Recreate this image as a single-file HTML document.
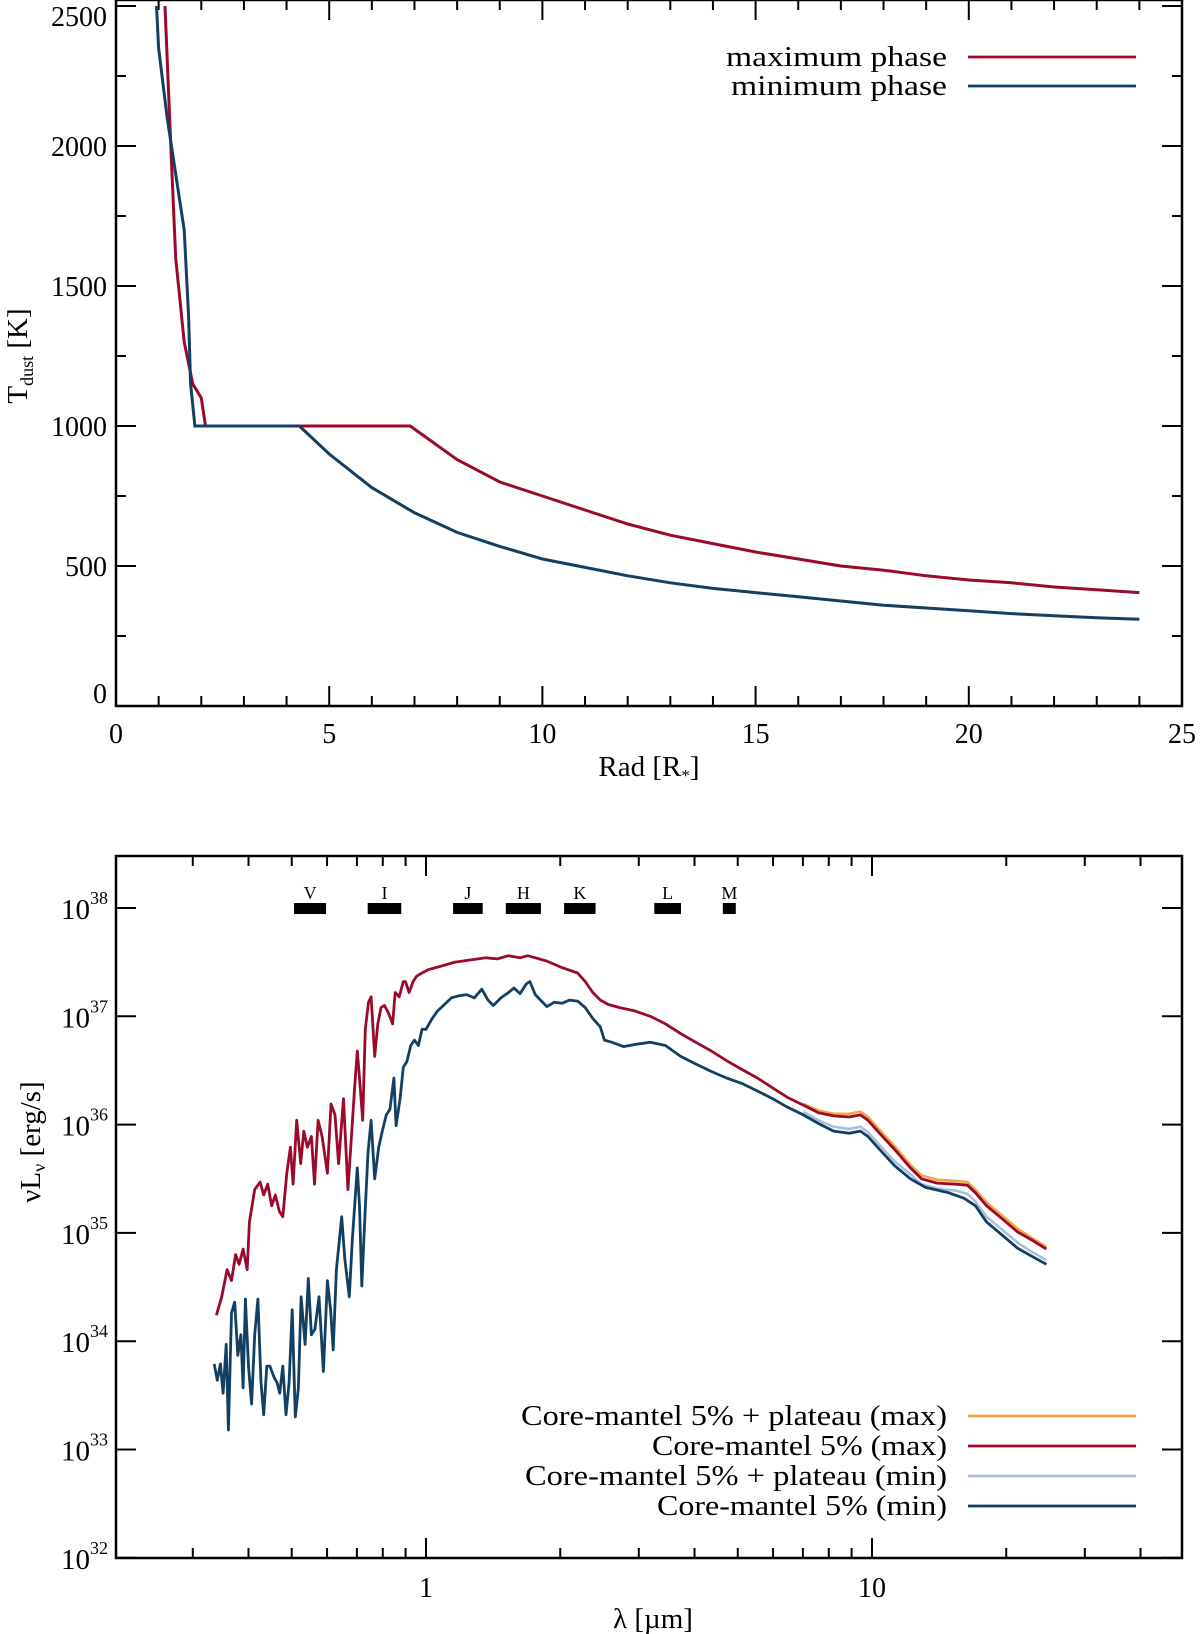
<!DOCTYPE html>
<html><head><meta charset="utf-8"><style>
body{margin:0;background:#fff;}
svg{display:block;font-family:"Liberation Serif",serif;}
</style></head><body>
<svg id="fig" width="1200" height="1634" viewBox="0 0 1200 1634" xmlns="http://www.w3.org/2000/svg"></svg>
<script>
// ---------- Top chart data ----------
const radMax = [1.15,1.3,1.4,1.6,1.8,2.0,2.1,2.2,6.9,8,9,10,11,12,13,14,15,16,17,18,19,20,21,22,23,24];
const tMax = [2500,1950,1600,1300,1150,1100,1000,1000,1000,880,800,750,700,650,610,580,550,525,500,485,465,450,440,425,415,405];
const radMin = [0.95,1.0,1.2,1.4,1.6,1.7,1.75,1.85,4.3,5,6,7,8,9,10,11,12,13,14,15,16,17,18,19,20,21,22,23,24];
const tMin = [2500,2350,2100,1900,1700,1400,1150,1000,1000,900,780,690,620,570,525,495,465,440,420,405,390,375,360,350,340,330,322,315,310];
const xTicksTop = [0,5,10,15,20,25];
const yTicksTop = [0,500,1000,1500,2000,2500];

// ---------- Bottom chart data (log10 lambda [um], log10 nuLnu) ----------
const lamMax = [-0.470,-0.458,-0.446,-0.436,-0.427,-0.419,-0.410,-0.401,-0.396,-0.384,-0.372,-0.364,-0.355,-0.346,-0.338,-0.329,-0.321,-0.312,-0.304,-0.298,-0.290,-0.281,-0.274,-0.266,-0.257,-0.250,-0.242,-0.233,-0.221,-0.213,-0.204,-0.196,-0.185,-0.175,-0.168,-0.160,-0.154,-0.149,-0.142,-0.136,-0.129,-0.123,-0.115,-0.108,-0.101,-0.093,-0.084,-0.075,-0.069,-0.060,-0.051,-0.046,-0.038,-0.029,-0.021,-0.009,0.005,0.031,0.065,0.099,0.134,0.160,0.185,0.211,0.228,0.245,0.271,0.305,0.340,0.357,0.374,0.391,0.408,0.434,0.468,0.503,0.537,0.571,0.605,0.640,0.674,0.708,0.743,0.777,0.811,0.846,0.880,0.914,0.949,0.974,0.991,1.017,1.051,1.086,1.111,1.146,1.189,1.214,1.232,1.257,1.292,1.326,1.360,1.391];
const lumMax = [34.24,34.41,34.66,34.56,34.80,34.71,34.85,34.66,35.10,35.40,35.47,35.35,35.45,35.25,35.35,35.20,35.15,35.55,35.79,35.45,36.04,35.64,35.94,35.79,35.89,35.45,36.04,35.89,35.55,36.19,36.09,35.64,36.24,35.40,35.84,36.34,36.68,36.43,36.04,36.88,37.13,37.18,36.63,36.93,37.08,37.10,37.03,36.93,37.22,37.18,37.32,37.32,37.22,37.32,37.37,37.40,37.43,37.46,37.50,37.52,37.54,37.53,37.56,37.54,37.56,37.54,37.51,37.45,37.40,37.32,37.22,37.15,37.11,37.08,37.05,37.00,36.93,36.84,36.76,36.68,36.59,36.51,36.43,36.34,36.25,36.18,36.11,36.08,36.07,36.09,36.04,35.92,35.77,35.60,35.50,35.46,35.45,35.44,35.37,35.25,35.13,35.01,34.93,34.85];
const lamMin = [-0.475,-0.468,-0.461,-0.455,-0.448,-0.443,-0.436,-0.429,-0.422,-0.415,-0.410,-0.405,-0.398,-0.391,-0.384,-0.377,-0.370,-0.364,-0.357,-0.350,-0.341,-0.334,-0.328,-0.321,-0.314,-0.307,-0.300,-0.293,-0.286,-0.280,-0.271,-0.264,-0.257,-0.249,-0.240,-0.230,-0.221,-0.214,-0.208,-0.201,-0.189,-0.182,-0.172,-0.165,-0.154,-0.149,-0.144,-0.137,-0.130,-0.123,-0.115,-0.106,-0.098,-0.089,-0.081,-0.072,-0.067,-0.058,-0.051,-0.043,-0.034,-0.026,-0.017,-0.009,0.000,0.014,0.026,0.039,0.057,0.074,0.091,0.108,0.125,0.139,0.151,0.168,0.185,0.197,0.211,0.225,0.233,0.245,0.259,0.271,0.288,0.305,0.322,0.340,0.357,0.374,0.391,0.400,0.417,0.443,0.468,0.503,0.537,0.571,0.605,0.640,0.674,0.708,0.743,0.777,0.811,0.846,0.880,0.914,0.949,0.974,0.991,1.017,1.051,1.086,1.120,1.172,1.206,1.232,1.257,1.292,1.326,1.360,1.391];
const lumMin = [33.79,33.64,33.79,33.52,33.97,33.18,34.26,34.36,33.87,34.06,33.57,34.39,33.77,33.42,34.06,34.39,33.62,33.32,33.77,33.77,33.67,33.62,33.52,33.77,33.32,33.62,34.29,33.30,33.57,34.41,33.97,34.58,34.06,34.11,34.41,33.72,34.56,34.29,33.92,34.66,35.15,34.76,34.41,34.95,35.60,35.25,34.51,35.15,35.74,36.04,35.50,35.79,35.94,36.09,36.14,36.43,35.99,36.24,36.53,36.58,36.73,36.78,36.73,36.88,36.88,36.98,37.05,37.10,37.17,37.19,37.20,37.17,37.25,37.15,37.10,37.17,37.22,37.26,37.21,37.30,37.32,37.20,37.14,37.09,37.13,37.12,37.15,37.14,37.08,36.98,36.90,36.78,36.76,36.72,36.74,36.76,36.73,36.63,36.56,36.49,36.43,36.38,36.31,36.24,36.16,36.09,36.01,35.94,35.92,35.94,35.89,35.77,35.62,35.50,35.42,35.37,35.32,35.25,35.10,34.98,34.86,34.78,34.71];
const lamPlat = [0.846,0.880,0.914,0.949,0.974,0.991,1.017,1.051,1.086,1.111,1.146,1.189,1.214,1.232,1.257,1.292,1.326,1.360,1.391];
const lumPlatMax = [36.19,36.13,36.10,36.10,36.12,36.07,35.95,35.80,35.63,35.53,35.49,35.48,35.47,35.40,35.28,35.16,35.04,34.95,34.87];
const lumPlatMin = [36.12,36.04,35.98,35.96,35.98,35.93,35.81,35.66,35.54,35.45,35.41,35.39,35.36,35.29,35.15,35.03,34.91,34.82,34.75];
const bandNames = ["V","I","J","H","K","L","M"];
const bandLo = [0.506,0.74,1.15,1.51,2.04,3.25,4.63];
const bandHi = [0.597,0.88,1.34,1.81,2.40,3.73,4.95];
const decadeTicks = [32,33,34,35,36,37,38];

const NS = "http://www.w3.org/2000/svg";
const svg = document.getElementById('fig');
function mk(tag, attrs, parent){const e=document.createElementNS(NS,tag);for(const k in attrs)e.setAttribute(k,attrs[k]);(parent||svg).appendChild(e);return e;}
function linePath(xs,ys,fx,fy){return xs.map((v,i)=>(i?'L':'M')+fx(v).toFixed(1)+' '+fy(ys[i]).toFixed(1)).join(' ');}

// ---------- Top chart ----------
const T = {l:116,r:1182,t:6,b:706};
const xT = v => T.l + (v-0)/25*(T.r-T.l);
const yT = v => T.b - v/2500*(T.b-T.t);
const gTop = mk('g',{});


for(let v=0; v<=25; v++){
  const big = v%5===0, len = big?20:10, x=xT(v);
  const t1=mk('line',{x1:x,x2:x,y1:T.b,y2:T.b-len,stroke:'#000','stroke-width':2},gTop);
   
  const t2=mk('line',{x1:x,x2:x,y1:T.t-6,y2:T.t-6+len,stroke:'#000','stroke-width':2},gTop);
   
}
xTicksTop.forEach(v=>{
  const t=mk('text',{x:xT(v),y:743,'font-size':28,'text-anchor':'middle'},gTop); t.textContent=v;
   
});
for(let v=0; v<=2500; v+=250){
  const big=v%500===0, len=big?20:10, y=yT(v);
  const t1=mk('line',{x1:T.l,x2:T.l+len,y1:y,y2:y,stroke:'#000','stroke-width':2},gTop);
   
  const t2=mk('line',{x1:T.r,x2:T.r-len,y1:y,y2:y,stroke:'#000','stroke-width':2},gTop);
   
}
yTicksTop.forEach(v=>{
  const yy = v===0 ? yT(v)-3 : (v===2500? yT(v)+20 : yT(v)+10);
  const t=mk('text',{x:107,y:yy,'font-size':28,'text-anchor':'end'},gTop); t.textContent=v;
   
});
const frameT = mk('rect',{x:T.l,y:T.t-6,width:T.r-T.l,height:T.b-T.t+6,fill:'none',stroke:'#000','stroke-width':2.5},gTop);
 
const clipT = mk('clipPath',{id:'clipT'},gTop); mk('rect',{x:T.l,y:0,width:T.r-T.l,height:T.b},clipT);
const pMaxT = mk('path',{d:linePath(radMax,tMax,xT,yT),fill:'none',stroke:'#9b0a2b','stroke-width':3,'clip-path':'url(#clipT)'},gTop);
 
const pMinT = mk('path',{d:linePath(radMin,tMin,xT,yT),fill:'none',stroke:'#123f62','stroke-width':3,'clip-path':'url(#clipT)'},gTop);
 
[['maximum phase','#9b0a2b',57,221],['minimum phase','#123f62',86,216]].forEach(([lab,col,y,w])=>{
  const t=mk('text',{x:947,y:y+9,'font-size':28,'text-anchor':'end',textLength:w,lengthAdjust:'spacingAndGlyphs'},gTop); t.textContent=lab;
   
  const l=mk('line',{x1:968,x2:1136,y1:y,y2:y,stroke:col,'stroke-width':2.8},gTop);
   
});
const xtT=mk('text',{x:649,y:776,'font-size':29,'text-anchor':'middle'},gTop);
xtT.innerHTML='Rad [R<tspan font-size="17" dy="5">*</tspan><tspan dy="-5">]</tspan>';
 
const ytT=mk('text',{transform:'translate(27,356) rotate(-90)','font-size':29,'text-anchor':'middle'},gTop);
ytT.innerHTML='T<tspan font-size="18" dy="6">dust</tspan><tspan dy="-6"> [K]</tspan>';
 

// ---------- Bottom chart ----------
const B = {l:116,r:1182,t:856,b:1558};
const xB = lg => 426 + lg*446;
const yB = lg => 908 - (lg-38)*108.3;
const gBot = mk('g',{});


const minorLam = [0.3,0.4,0.5,0.6,0.7,0.8,0.9,2,3,4,5,6,7,8,9,20,30,40];
minorLam.forEach(v=>{
  const x=xB(Math.log10(v));
  const a=mk('line',{x1:x,x2:x,y1:B.b,y2:B.b-10,stroke:'#000','stroke-width':2},gBot);
   
  const b=mk('line',{x1:x,x2:x,y1:B.t,y2:B.t+10,stroke:'#000','stroke-width':2},gBot);
   
});
[1,10].forEach(v=>{
  const x=xB(Math.log10(v));
  const a=mk('line',{x1:x,x2:x,y1:B.b,y2:B.b-20,stroke:'#000','stroke-width':2},gBot);
   
  const b=mk('line',{x1:x,x2:x,y1:B.t,y2:B.t+20,stroke:'#000','stroke-width':2},gBot);
   
  const t=mk('text',{x:x,y:1597,'font-size':28,'text-anchor':'middle'},gBot); t.textContent=v;
   
});
decadeTicks.forEach(d=>{
  const y=yB(d);
  const a=mk('line',{x1:B.l,x2:B.l+20,y1:y,y2:y,stroke:'#000','stroke-width':2},gBot);
   
  const b=mk('line',{x1:B.r,x2:B.r-20,y1:y,y2:y,stroke:'#000','stroke-width':2},gBot);
   
  const t=mk('text',{x:90,y:y+11,'font-size':29,'text-anchor':'end'},gBot); t.textContent='10';
   
  const s=mk('text',{x:90,y:y-4,'font-size':18,'text-anchor':'start'},gBot); s.textContent=d;
   
});
const frameB = mk('rect',{x:B.l,y:B.t,width:B.r-B.l,height:B.b-B.t,fill:'none',stroke:'#000','stroke-width':2.5},gBot);
 
bandNames.forEach((n,i)=>{
  const x1=xB(Math.log10(bandLo[i])), x2=xB(Math.log10(bandHi[i]));
  const r=mk('rect',{x:x1,y:903,width:x2-x1,height:11,fill:'#000'},gBot);
   
  const t=mk('text',{x:(x1+x2)/2,y:899,'font-size':18,'text-anchor':'middle'},gBot); t.textContent=n;
   
});
const s1=mk('path',{d:linePath(lamPlat,lumPlatMax,xB,yB),fill:'none',stroke:'#f2a540','stroke-width':2.6},gBot);
 
const s2=mk('path',{d:linePath(lamMax,lumMax,xB,yB),fill:'none',stroke:'#9b0a2b','stroke-width':2.8,'stroke-linejoin':'round'},gBot);
 
const s3=mk('path',{d:linePath(lamPlat,lumPlatMin,xB,yB),fill:'none',stroke:'#a9c0dc','stroke-width':2.6},gBot);
 
const s4=mk('path',{d:linePath(lamMin,lumMin,xB,yB),fill:'none',stroke:'#123f62','stroke-width':2.8,'stroke-linejoin':'round'},gBot);
 
[['Core-mantel 5% + plateau (max)','#f2a540',1416,426],['Core-mantel 5% (max)','#9b0a2b',1446,295],['Core-mantel 5% + plateau (min)','#a9c0dc',1476,422],['Core-mantel 5% (min)','#123f62',1506,290]].forEach(([lab,col,y,w])=>{
  const t=mk('text',{x:947,y:y+9,'font-size':28,'text-anchor':'end',textLength:w,lengthAdjust:'spacingAndGlyphs'},gBot); t.textContent=lab;
   
  const l=mk('line',{x1:968,x2:1136,y1:y,y2:y,stroke:col,'stroke-width':2.8},gBot);
   
});
const xtB=mk('text',{x:653,y:1628,'font-size':29,'text-anchor':'middle'},gBot); xtB.textContent='λ [µm]';
 
const ytB=mk('text',{transform:'translate(40,1142) rotate(-90)','font-size':29,'text-anchor':'middle'},gBot);
ytB.innerHTML='νL<tspan font-size="18" dy="5">ν</tspan><tspan dy="-5"> [erg/s]</tspan>';
 
</script>
</body></html>
